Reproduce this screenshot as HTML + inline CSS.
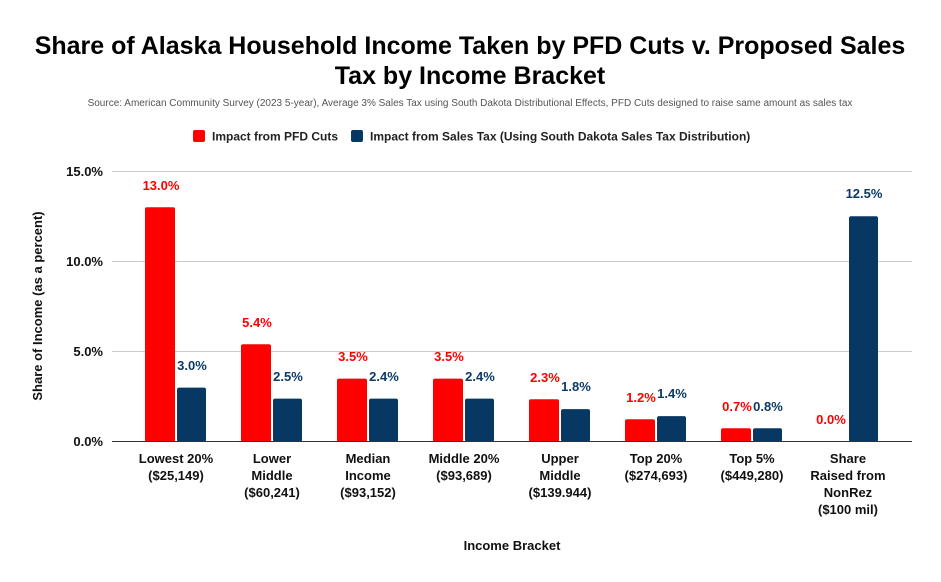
<!DOCTYPE html>
<html><head><meta charset="utf-8"><style>
body{margin:0;background:#fff;}
svg{display:block;font-family:"Liberation Sans",Arial,sans-serif;}
</style></head><body>
<svg width="941" height="582" viewBox="0 0 941 582" xmlns="http://www.w3.org/2000/svg">
<rect width="941" height="582" fill="#fff"/>
<text x="470" y="54" text-anchor="middle" font-size="25" font-weight="bold" fill="#000">Share of Alaska Household Income Taken by PFD Cuts v. Proposed Sales</text>
<text x="470" y="84" text-anchor="middle" font-size="25" font-weight="bold" fill="#000">Tax by Income Bracket</text>
<text x="470" y="106" text-anchor="middle" font-size="10" fill="#555">Source: American Community Survey (2023 5-year), Average 3% Sales Tax using South Dakota Distributional Effects, PFD Cuts designed to raise same amount as sales tax</text>
<rect x="193" y="130" width="12" height="12" rx="2" fill="#ff0000"/>
<text x="212" y="140.5" font-size="12" font-weight="bold" fill="#222">Impact from PFD Cuts</text>
<rect x="351" y="130" width="12" height="12" rx="2" fill="#073763"/>
<text x="370" y="140.5" font-size="12" font-weight="bold" fill="#222">Impact from Sales Tax (Using South Dakota Sales Tax Distribution)</text>
<g stroke="#ccc" stroke-width="1">
<line x1="112" y1="171.5" x2="912" y2="171.5"/>
<line x1="112" y1="261.5" x2="912" y2="261.5"/>
<line x1="112" y1="351.5" x2="912" y2="351.5"/>
</g>
<g font-size="13" font-weight="bold" fill="#111" text-anchor="end">
<text x="103" y="176">15.0%</text>
<text x="103" y="266">10.0%</text>
<text x="103" y="356">5.0%</text>
<text x="103" y="446">0.0%</text>
</g>
<text transform="translate(42,306) rotate(-90)" text-anchor="middle" font-size="13" font-weight="bold" fill="#111">Share of Income (as a percent)</text>
<g id="bars">
<!-- scale 18.03 px per %, base 441.7 -->
<rect x="145" y="207.3" width="30" height="234.4" rx="2" fill="#ff0000"/>
<rect x="177" y="387.6" width="29" height="54.1" rx="2" fill="#073763"/>
<rect x="241" y="344.3" width="30" height="97.4" rx="2" fill="#ff0000"/>
<rect x="273" y="398.6" width="29" height="43.1" rx="2" fill="#073763"/>
<rect x="337" y="378.6" width="30" height="63.1" rx="2" fill="#ff0000"/>
<rect x="369" y="398.6" width="29" height="43.1" rx="2" fill="#073763"/>
<rect x="433" y="378.6" width="30" height="63.1" rx="2" fill="#ff0000"/>
<rect x="465" y="398.6" width="29" height="43.1" rx="2" fill="#073763"/>
<rect x="529" y="399.2" width="30" height="42.5" rx="2" fill="#ff0000"/>
<rect x="561" y="409.1" width="29" height="32.6" rx="2" fill="#073763"/>
<rect x="625" y="419.2" width="30" height="22.5" rx="2" fill="#ff0000"/>
<rect x="657" y="416.1" width="29" height="25.6" rx="2" fill="#073763"/>
<rect x="721" y="428.2" width="30" height="13.5" rx="2" fill="#ff0000"/>
<rect x="753" y="428.2" width="29" height="13.5" rx="2" fill="#073763"/>
<rect x="849" y="216.3" width="29" height="225.4" rx="2" fill="#073763"/>
</g>
<line x1="112" y1="441.5" x2="912" y2="441.5" stroke="#333" stroke-width="1"/>
<g font-size="13" font-weight="bold" text-anchor="middle">
<g fill="#ff0000">
<text x="161" y="190">13.0%</text>
<text x="257" y="327">5.4%</text>
<text x="353" y="361">3.5%</text>
<text x="449" y="361">3.5%</text>
<text x="545" y="382">2.3%</text>
<text x="641" y="402">1.2%</text>
<text x="737" y="411">0.7%</text>
<text x="831" y="424">0.0%</text>
</g>
<g fill="#0b3a66">
<text x="192" y="370">3.0%</text>
<text x="288" y="381">2.5%</text>
<text x="384" y="381">2.4%</text>
<text x="480" y="381">2.4%</text>
<text x="576" y="391">1.8%</text>
<text x="672" y="398">1.4%</text>
<text x="768" y="411">0.8%</text>
<text x="864" y="198">12.5%</text>
</g>
</g>
<g font-size="13" font-weight="bold" fill="#111" text-anchor="middle">
<text x="176" y="463">Lowest 20%</text><text x="176" y="480">($25,149)</text>
<text x="272" y="463">Lower</text><text x="272" y="480">Middle</text><text x="272" y="497">($60,241)</text>
<text x="368" y="463">Median</text><text x="368" y="480">Income</text><text x="368" y="497">($93,152)</text>
<text x="464" y="463">Middle 20%</text><text x="464" y="480">($93,689)</text>
<text x="560" y="463">Upper</text><text x="560" y="480">Middle</text><text x="560" y="497">($139.944)</text>
<text x="656" y="463">Top 20%</text><text x="656" y="480">($274,693)</text>
<text x="752" y="463">Top 5%</text><text x="752" y="480">($449,280)</text>
<text x="848" y="463">Share</text><text x="848" y="480">Raised from</text><text x="848" y="497">NonRez</text><text x="848" y="514">($100 mil)</text>
</g>
<text x="512" y="550" text-anchor="middle" font-size="13" font-weight="bold" fill="#111">Income Bracket</text>
</svg>
</body></html>
